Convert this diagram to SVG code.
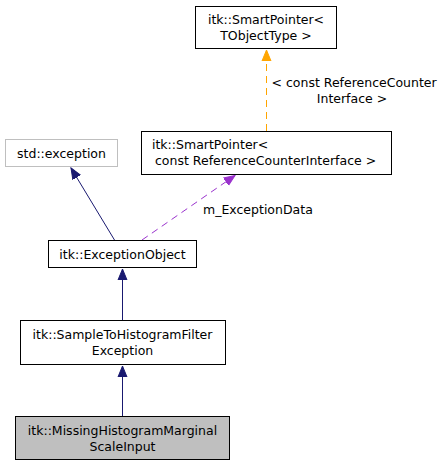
<svg xmlns="http://www.w3.org/2000/svg" width="445" height="467" viewBox="0 0 445 467">
<style>
text{font-family:"DejaVu Sans",sans-serif;font-size:12.5px;fill:#000}
.c{text-anchor:middle}
.box{fill:#fff;stroke:#000;stroke-width:1}
.navy{stroke:#191970;fill:none;stroke-width:1}
</style>
<defs>
<marker id="an" markerWidth="12" markerHeight="14" refX="11" refY="5" orient="auto" markerUnits="userSpaceOnUse" viewBox="0 0 12 10"><path d="M0,0.5 L11,5 L0,9.5 Z" fill="#191970" stroke="#191970"/></marker>
<marker id="ap" markerWidth="12" markerHeight="14" refX="11" refY="5" orient="auto" markerUnits="userSpaceOnUse" viewBox="0 0 12 10"><path d="M0,0.5 L11,5 L0,9.5 Z" fill="#9a32cd" stroke="#9a32cd"/></marker>
<marker id="ao" markerWidth="12" markerHeight="14" refX="11" refY="5" orient="auto" markerUnits="userSpaceOnUse" viewBox="0 0 12 10"><path d="M0,0.5 L11,5 L0,9.5 Z" fill="#ffa500" stroke="#ffa500"/></marker>
</defs>
<g id="edges">
<path class="navy" d="M122.5,416 L122.5,366" marker-end="url(#an)"/>
<path class="navy" d="M122.5,320 L122.5,269" marker-end="url(#an)"/>
<path class="navy" d="M114.5,240 L71,168" marker-end="url(#an)"/>
<path d="M142,240 L235,175.5" stroke="#9a32cd" stroke-dasharray="7,5" fill="none" marker-end="url(#ap)"/>
<text x="203" y="214">m_ExceptionData</text>
<path d="M266.5,131 L266.5,50" stroke="#ffa500" stroke-dasharray="7,5" fill="none" marker-end="url(#ao)"/>
<text x="271.5" y="86.5">&lt; const ReferenceCounter</text>
<text x="352" y="102.5" class="c">Interface &gt;</text>
</g>
<g id="n_smartptr_t">
<rect class="box" x="195.5" y="6.5" width="141" height="42"/>
<text x="266" y="24" class="c">itk::SmartPointer&lt;</text>
<text x="266" y="40" class="c">TObjectType &gt;</text>
</g>
<g id="n_smartptr_rc">
<rect class="box" x="141.5" y="131.5" width="250" height="43"/>
<text x="152" y="149">itk::SmartPointer&lt;</text>
<text x="155" y="165">const ReferenceCounterInterface &gt;</text>
</g>
<g id="n_std_exception">
<rect x="5.5" y="139.5" width="112" height="27" fill="#fff" stroke="#bfbfbf"/>
<text x="61.5" y="157.5" class="c">std::exception</text>
</g>
<g id="n_exception_object">
<rect class="box" x="48.5" y="240.5" width="148" height="27"/>
<text x="122.5" y="258.5" class="c">itk::ExceptionObject</text>
</g>
<g id="n_sample_to_hist">
<rect class="box" x="20.5" y="320.5" width="205" height="44"/>
<text x="122.5" y="339" class="c">itk::SampleToHistogramFilter</text>
<text x="122.5" y="355" class="c">Exception</text>
</g>
<g id="n_missing">
<rect x="15.5" y="416.5" width="214" height="43" fill="#bfbfbf" stroke="#000"/>
<text x="122.5" y="435" class="c">itk::MissingHistogramMarginal</text>
<text x="122.5" y="451" class="c">ScaleInput</text>
</g>
</svg>
